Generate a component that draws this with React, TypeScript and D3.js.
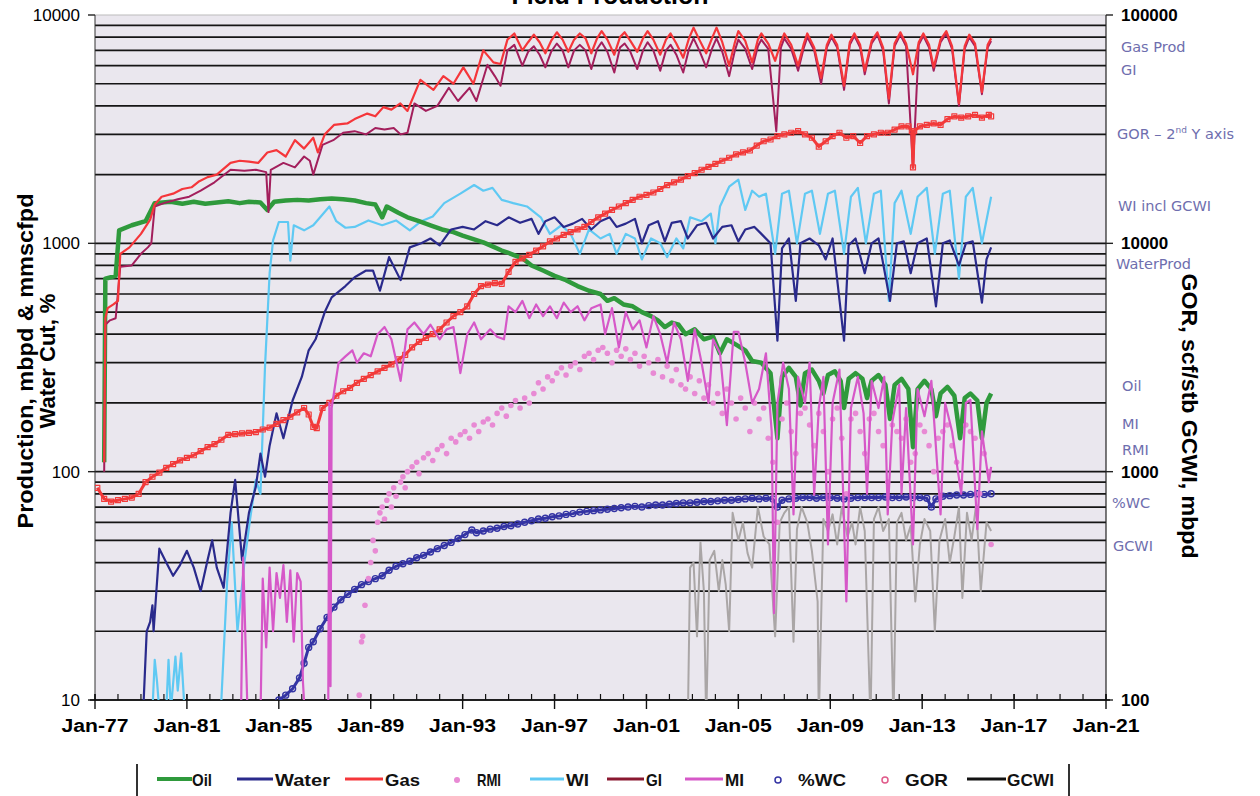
import * as d3 from "d3";

type Pt = [number, number];

// x axis: Jan of each 4th year
const yearTicks = [1977, 1981, 1985, 1989, 1993, 1997, 2001, 2005, 2009, 2013, 2017, 2021];
const yearLabels = ["Jan-77", "Jan-81", "Jan-85", "Jan-89", "Jan-93", "Jan-97", "Jan-01", "Jan-05", "Jan-09", "Jan-13", "Jan-17", "Jan-21"];
const leftTicks = [10, 100, 1000, 10000];
const rightTicks = [100, 1000, 10000, 100000];

// production, mbpd & mmscfpd (left axis)
const oil: Pt[] = [
  [1977.4, 110], [1977.45, 700], [1977.9, 720], [1978.05, 1140], [1978.6, 1200], [1979.2, 1250], [1979.6, 1500],
  [1980.3, 1520], [1980.8, 1490], [1981.3, 1520], [1981.8, 1490], [1982.3, 1510], [1982.8, 1530], [1983.3, 1500],
  [1983.7, 1520], [1984.2, 1510], [1984.5, 1400], [1984.8, 1520], [1985.3, 1540], [1985.8, 1550], [1986.3, 1540],
  [1986.8, 1560], [1987.3, 1570], [1987.8, 1560], [1988.3, 1540], [1988.8, 1500], [1989.2, 1480], [1989.5, 1300],
  [1989.7, 1450], [1990.2, 1360], [1990.6, 1300], [1991.1, 1250], [1991.6, 1200], [1992.1, 1150], [1992.6, 1120],
  [1993.0, 1080], [1993.5, 1040], [1993.9, 1010], [1994.3, 970], [1994.7, 930], [1995.1, 900], [1995.6, 860],
  [1996.0, 800], [1996.5, 760], [1997.0, 720], [1997.5, 690], [1998.0, 650], [1998.5, 620], [1999.0, 600],
  [1999.3, 560], [1999.6, 575], [2000.0, 540], [2000.4, 530], [2000.8, 500], [2001.2, 480], [2001.5, 460],
  [2001.8, 430], [2002.1, 450], [2002.4, 440], [2002.7, 400], [2003.1, 420], [2003.5, 380], [2003.9, 390],
  [2004.2, 330], [2004.5, 380], [2004.9, 360], [2005.3, 340], [2005.6, 305], [2006.0, 300], [2006.4, 270],
  [2006.7, 140], [2006.9, 260], [2007.2, 285], [2007.5, 260], [2007.7, 195], [2007.9, 270], [2008.2, 280],
  [2008.5, 250], [2008.7, 220], [2008.9, 265], [2009.2, 275], [2009.45, 250], [2009.6, 190], [2009.8, 255],
  [2010.1, 270], [2010.4, 255], [2010.6, 210], [2010.8, 250], [2011.1, 265], [2011.4, 240], [2011.6, 170],
  [2011.8, 240], [2012.1, 255], [2012.4, 230], [2012.6, 128], [2012.8, 230], [2013.1, 250], [2013.4, 230],
  [2013.6, 175], [2013.8, 220], [2014.1, 235], [2014.4, 215], [2014.65, 140], [2014.85, 210], [2015.1, 220],
  [2015.4, 205], [2015.6, 140], [2015.8, 200], [2016.0, 220],
];

const water: Pt[] = [
  [1979.1, 9], [1979.25, 20], [1979.4, 22], [1979.5, 26], [1979.55, 20], [1979.8, 46], [1980.1, 40], [1980.4, 35],
  [1980.7, 39], [1981.0, 45], [1981.3, 38], [1981.6, 30], [1981.9, 41], [1982.1, 50], [1982.3, 38], [1982.6, 31],
  [1982.9, 66], [1983.1, 92], [1983.4, 41], [1983.7, 66], [1984.0, 86], [1984.2, 120], [1984.4, 95], [1984.6, 130],
  [1984.9, 180], [1985.2, 140], [1985.6, 205], [1986.0, 260], [1986.3, 340], [1986.6, 380], [1987.0, 500],
  [1987.3, 580], [1987.9, 650], [1988.3, 710], [1988.8, 760], [1989.1, 760], [1989.4, 620], [1989.8, 870],
  [1990.3, 690], [1990.7, 960], [1991.2, 1000], [1991.6, 1050], [1992.0, 980], [1992.5, 1150], [1993.0, 1180],
  [1993.5, 1150], [1994.0, 1250], [1994.5, 1200], [1995.0, 1300], [1995.5, 1230], [1996.0, 1280], [1996.3, 1100],
  [1996.6, 1250], [1997.0, 1300], [1997.4, 1180], [1997.8, 1220], [1998.2, 1280], [1998.6, 1150], [1999.0, 1250],
  [1999.4, 1300], [1999.7, 1180], [2000.1, 1220], [2000.5, 1280], [2000.8, 1000], [2001.1, 1200], [2001.5, 1250],
  [2001.8, 1020], [2002.1, 1230], [2002.5, 1250], [2002.8, 1050], [2003.2, 1200], [2003.6, 1230], [2003.9, 1050],
  [2004.3, 1180], [2004.7, 1200], [2005.0, 1020], [2005.3, 1150], [2005.7, 1180], [2006.0, 1100], [2006.4, 1000],
  [2006.7, 375], [2006.9, 950], [2007.2, 1050], [2007.5, 560], [2007.7, 1000], [2008.1, 1050], [2008.5, 980],
  [2008.8, 850], [2009.1, 1050], [2009.6, 375], [2009.8, 980], [2010.1, 1050], [2010.5, 740], [2010.8, 1000],
  [2011.1, 1050], [2011.6, 560], [2011.9, 1000], [2012.2, 1020], [2012.5, 740], [2012.8, 1000], [2013.2, 1050],
  [2013.6, 530], [2013.9, 1000], [2014.2, 1030], [2014.6, 800], [2014.9, 1000], [2015.2, 1020], [2015.6, 550],
  [2015.8, 850], [2016.0, 960],
];

const gas: Pt[] = [
  [1977.4, 110], [1977.45, 470], [1977.55, 520], [1977.8, 540], [1978.0, 560], [1978.1, 900], [1978.5, 960],
  [1979.0, 1100], [1979.4, 1270], [1979.6, 1480], [1979.9, 1600], [1980.4, 1650], [1980.8, 1730], [1981.2, 1760],
  [1981.5, 1860], [1981.9, 1950], [1982.3, 2000], [1982.9, 2250], [1983.3, 2300], [1983.7, 2280], [1984.1, 2250],
  [1984.5, 2500], [1984.9, 2560], [1985.3, 2400], [1985.7, 2830], [1986.1, 2600], [1986.5, 2900], [1986.7, 2500],
  [1987.0, 3000], [1987.4, 3300], [1987.98, 3350], [1988.3, 3500], [1988.85, 3700], [1989.2, 3600], [1989.55, 3950],
  [1989.9, 3850], [1990.29, 4100], [1990.6, 3800], [1991.16, 5200], [1991.73, 4700], [1992.16, 5400], [1992.6, 5000],
  [1993.03, 5900], [1993.47, 5000], [1993.9, 7000], [1994.34, 6200], [1994.65, 6100], [1994.95, 7800],
  [1995.25, 8300], [1995.6, 7000], [1995.85, 7600], [1996.1, 8200], [1996.35, 7600], [1996.6, 6800], [1996.85, 7700],
  [1997.1, 8400], [1997.35, 7800], [1997.6, 6900], [1997.85, 7800], [1998.1, 8300], [1998.35, 7900], [1998.6, 6800],
  [1998.85, 7900], [1999.05, 8500], [1999.3, 7800], [1999.6, 6700], [1999.85, 8000], [2000.05, 8400], [2000.3, 7700],
  [2000.6, 6900], [2000.85, 7900], [2001.05, 8500], [2001.3, 7800], [2001.6, 6700], [2001.85, 7800], [2002.05, 8300],
  [2002.3, 7500], [2002.6, 6500], [2002.85, 7900], [2003.05, 8800], [2003.3, 7800], [2003.6, 6800], [2003.85, 7900],
  [2004.05, 8800], [2004.3, 7600], [2004.6, 6000], [2004.85, 7600], [2005.0, 8500], [2005.3, 7700], [2005.6, 6200],
  [2005.85, 7800], [2006.0, 8300], [2006.3, 7500], [2006.6, 6300], [2006.85, 7600], [2007.0, 8300], [2007.3, 7400],
  [2007.6, 6000], [2007.85, 7500], [2008.0, 8300], [2008.3, 7200], [2008.6, 5300], [2008.85, 7400], [2009.05, 8200],
  [2009.3, 7400], [2009.6, 4900], [2009.85, 7600], [2010.05, 8300], [2010.3, 7400], [2010.5, 5700], [2010.8, 7700],
  [2011.05, 8400], [2011.3, 7200], [2011.55, 4300], [2011.8, 7500], [2012.05, 8400], [2012.3, 7500], [2012.6, 5500],
  [2012.85, 7600], [2013.05, 8300], [2013.3, 7400], [2013.5, 5900], [2013.8, 7800], [2014.05, 8500], [2014.3, 7300],
  [2014.6, 4100], [2014.85, 7300], [2015.05, 8200], [2015.3, 7500], [2015.6, 4600], [2015.85, 7400], [2016.0, 7900],
];

const gi: Pt[] = [
  [1977.4, 100], [1977.45, 440], [1977.65, 460], [1977.9, 470], [1978.1, 790], [1978.6, 800], [1979.0, 900],
  [1979.3, 960], [1979.45, 1000], [1979.6, 1450], [1980.0, 1500], [1980.6, 1560], [1981.1, 1600], [1981.6, 1700],
  [1982.2, 1850], [1982.9, 2100], [1983.5, 2080], [1984.0, 2100], [1984.45, 2050], [1984.55, 1370], [1984.65, 2100],
  [1985.2, 2250], [1985.7, 2150], [1986.1, 2400], [1986.35, 2300], [1986.5, 2000], [1986.9, 2700], [1987.37, 2830],
  [1987.8, 3050], [1988.3, 3100], [1988.8, 3000], [1989.2, 3200], [1989.6, 3150], [1990.0, 3200], [1990.3, 3000],
  [1990.6, 3050], [1990.9, 4100], [1991.4, 3800], [1991.9, 4000], [1992.4, 4800], [1992.8, 4200], [1993.3, 4800],
  [1993.6, 4200], [1994.08, 6050], [1994.4, 5400], [1994.65, 4900], [1994.95, 7000],
  [1995.25, 7400], [1995.6, 6000], [1995.85, 6900], [1996.1, 7300], [1996.35, 6700], [1996.6, 5900], [1996.85, 6900],
  [1997.1, 7500], [1997.35, 7000], [1997.6, 5900], [1997.85, 7000], [1998.1, 7400], [1998.35, 7000], [1998.6, 5800],
  [1998.85, 7100], [1999.05, 7600], [1999.3, 6900], [1999.6, 5600], [1999.85, 7200], [2000.05, 7500], [2000.3, 6900],
  [2000.6, 5800], [2000.85, 7000], [2001.05, 7600], [2001.3, 7000], [2001.6, 5700], [2001.85, 7000], [2002.05, 7400],
  [2002.3, 6700], [2002.6, 5600], [2002.85, 7100], [2003.05, 7900], [2003.3, 7000], [2003.6, 5900], [2003.85, 7100],
  [2004.05, 7900], [2004.3, 6900], [2004.6, 5400], [2004.85, 7000], [2005.0, 7800], [2005.3, 7100], [2005.6, 5800],
  [2005.85, 7300], [2006.0, 7800], [2006.3, 7100], [2006.65, 3100], [2006.85, 7200], [2007.0, 7900], [2007.3, 7100],
  [2007.6, 5700], [2007.85, 7200], [2008.0, 8000], [2008.3, 7000], [2008.6, 5000], [2008.85, 7200], [2009.05, 8000],
  [2009.3, 7200], [2009.6, 4700], [2009.85, 7400], [2010.05, 8100], [2010.3, 7200], [2010.5, 5500], [2010.8, 7500],
  [2011.05, 8200], [2011.3, 7000], [2011.55, 4100], [2011.8, 7300], [2012.05, 8200], [2012.3, 7300], [2012.6, 2150],
  [2012.85, 7400], [2013.05, 8100], [2013.3, 7200], [2013.5, 5700], [2013.8, 7600], [2014.05, 8300], [2014.3, 7100],
  [2014.6, 4000], [2014.85, 7100], [2015.05, 8000], [2015.3, 7300], [2015.6, 4500], [2015.85, 7200], [2016.0, 7700],
];

const wi: Pt[] = [
  [1979.5, 9], [1979.6, 15], [1979.7, 12], [1979.8, 9], [1980.1, 9], [1980.2, 15], [1980.3, 9], [1980.5, 15.5],
  [1980.6, 11], [1980.75, 16], [1980.9, 9], [1981.0, 8], [1982.4, 8], [1982.5, 10], [1982.75, 33], [1982.95, 60],
  [1983.2, 20], [1983.5, 40], [1983.75, 62], [1984.0, 92], [1984.2, 80], [1984.4, 290], [1984.6, 740],
  [1984.75, 1030], [1985.0, 1240], [1985.4, 1240], [1985.5, 840], [1985.65, 1200], [1986.1, 1140], [1986.5, 1200],
  [1986.8, 1300], [1987.2, 1450], [1987.5, 1250], [1987.9, 1170], [1988.3, 1180], [1988.9, 1260], [1989.5, 1200],
  [1990.1, 1260], [1990.7, 1140], [1991.2, 1250], [1991.7, 1310], [1992.2, 1500], [1992.9, 1650], [1993.5, 1800],
  [1993.9, 1700], [1994.3, 1750], [1994.7, 1550], [1995.2, 1500], [1995.8, 1450], [1996.4, 1300], [1996.8, 1100],
  [1997.3, 1200], [1997.7, 1100], [1998.1, 900], [1998.5, 1150], [1999.0, 1050], [1999.4, 1100], [1999.7, 900],
  [2000.1, 1100], [2000.5, 1050], [2000.8, 850], [2001.2, 1050], [2001.6, 1000], [2001.9, 870], [2002.3, 1050],
  [2002.6, 950], [2002.9, 1300], [2003.4, 1250], [2003.8, 1350], [2004.0, 1000], [2004.2, 1450], [2004.6, 1770],
  [2005.0, 1900], [2005.3, 1400], [2005.6, 1700], [2005.9, 1600], [2006.2, 1650], [2006.6, 900], [2006.9, 1650],
  [2007.2, 1700], [2007.55, 1000], [2007.9, 1650], [2008.2, 1700], [2008.55, 1100], [2008.9, 1650], [2009.2, 1700],
  [2009.6, 900], [2009.9, 1600], [2010.2, 1750], [2010.55, 1000], [2010.9, 1650], [2011.2, 1700], [2011.55, 560],
  [2011.8, 1500], [2012.1, 1700], [2012.5, 1100], [2012.8, 1600], [2013.2, 1750], [2013.55, 900], [2013.9, 1650],
  [2014.2, 1700], [2014.6, 700], [2014.9, 1600], [2015.2, 1750], [2015.6, 1000], [2016.0, 1600],
];

const mi: Pt[] = [
  [1983.35, 8], [1983.45, 42], [1983.55, 18], [1983.65, 8], [1984.2, 8], [1984.3, 34], [1984.45, 17], [1984.6, 38],
  [1984.75, 20], [1984.9, 36], [1985.05, 28], [1985.2, 39], [1985.35, 22], [1985.5, 37], [1985.65, 18], [1985.8, 36],
  [1985.95, 33], [1986.05, 12], [1986.15, 8], [1987.15, 8], [1987.2, 200], [1987.25, 11.5], [1987.3, 190],
  [1987.6, 300], [1987.9, 320], [1988.2, 340], [1988.4, 300], [1988.7, 330], [1989.0, 320], [1989.3, 400],
  [1989.6, 430], [1989.9, 380], [1990.3, 250], [1990.6, 420], [1990.9, 450], [1991.3, 400], [1991.6, 440],
  [1992.0, 380], [1992.3, 420], [1992.6, 430], [1992.9, 270], [1993.2, 400], [1993.5, 450], [1993.8, 380],
  [1994.2, 420], [1994.5, 390], [1994.8, 380], [1995.0, 530], [1995.3, 500], [1995.6, 560], [1995.9, 470],
  [1996.2, 540], [1996.5, 480], [1996.8, 530], [1997.1, 470], [1997.4, 550], [1997.7, 500], [1998.0, 530],
  [1998.3, 460], [1998.6, 520], [1999.0, 540], [1999.2, 400], [1999.5, 520], [1999.8, 350], [2000.1, 500],
  [2000.4, 420], [2000.7, 460], [2001.0, 350], [2001.3, 480], [2001.6, 400], [2001.9, 300], [2002.2, 450],
  [2002.5, 380], [2002.8, 250], [2003.1, 420], [2003.4, 300], [2003.7, 200], [2003.9, 380], [2004.2, 330],
  [2004.5, 160], [2004.8, 410], [2005.0, 410], [2005.3, 300], [2005.6, 200], [2005.9, 230], [2006.2, 330],
  [2006.45, 150], [2006.55, 24], [2006.7, 200], [2006.95, 300], [2007.2, 230], [2007.4, 65], [2007.6, 260],
  [2007.9, 200], [2008.1, 300], [2008.3, 79], [2008.5, 190], [2008.7, 260], [2008.9, 48], [2009.1, 200],
  [2009.4, 280], [2009.7, 27], [2009.9, 190], [2010.2, 260], [2010.45, 180], [2010.6, 80], [2010.8, 250],
  [2011.1, 190], [2011.35, 260], [2011.5, 65], [2011.7, 165], [2012.0, 240], [2012.1, 80], [2012.3, 190],
  [2012.6, 48], [2012.8, 230], [2013.1, 175], [2013.4, 250], [2013.8, 65], [2014.0, 200], [2014.3, 150],
  [2014.7, 80], [2014.9, 200], [2015.1, 206], [2015.4, 56], [2015.6, 150], [2015.9, 90], [2016.0, 105],
];

const rmi: Pt[] = [
  [1988.5, 10.5], [1988.6, 18], [1988.65, 19], [1988.75, 26], [1988.9, 34], [1989.0, 40], [1989.1, 50], [1989.2, 45],
  [1989.3, 60], [1989.4, 66], [1989.5, 70], [1989.6, 62], [1989.7, 75], [1989.8, 80], [1989.9, 70], [1990.0, 85],
  [1990.1, 78], [1990.3, 90], [1990.4, 95], [1990.5, 85], [1990.6, 100], [1990.8, 105], [1991.0, 110], [1991.1, 98],
  [1991.3, 115], [1991.5, 120], [1991.7, 112], [1991.9, 125], [1992.1, 130], [1992.3, 120], [1992.5, 140],
  [1992.7, 135], [1992.9, 145], [1993.1, 150], [1993.3, 140], [1993.5, 160], [1993.7, 150], [1993.9, 165],
  [1994.1, 170], [1994.3, 160], [1994.5, 180], [1994.7, 190], [1994.9, 175], [1995.1, 195], [1995.3, 205],
  [1995.5, 190], [1995.7, 210], [1995.9, 200], [1996.1, 220], [1996.3, 245], [1996.5, 230], [1996.7, 260],
  [1996.9, 250], [1997.1, 270], [1997.3, 285], [1997.5, 265], [1997.7, 290], [1997.9, 300], [1998.1, 280],
  [1998.3, 320], [1998.5, 330], [1998.7, 310], [1998.9, 340], [1999.1, 350], [1999.3, 330], [1999.5, 300],
  [1999.7, 340], [1999.9, 320], [2000.1, 345], [2000.3, 310], [2000.5, 330], [2000.7, 290], [2000.9, 320],
  [2001.1, 300], [2001.3, 270], [2001.5, 310], [2001.7, 260], [2001.9, 290], [2002.1, 250], [2002.3, 280],
  [2002.5, 240], [2002.7, 230], [2002.9, 260], [2003.1, 220], [2003.3, 250], [2003.5, 210], [2003.7, 240],
  [2003.9, 200], [2004.1, 220], [2004.3, 180], [2004.5, 230], [2004.7, 200], [2004.9, 170], [2005.1, 210],
  [2005.3, 190], [2005.5, 150], [2005.7, 200], [2005.9, 170], [2006.1, 190], [2006.3, 140], [2006.5, 110],
  [2006.7, 60], [2006.9, 170], [2007.1, 200], [2007.3, 150], [2007.5, 120], [2007.7, 180], [2007.9, 190],
  [2008.1, 160], [2008.3, 130], [2008.5, 180], [2008.7, 150], [2008.9, 100], [2009.1, 170], [2009.3, 190],
  [2009.5, 140], [2009.7, 80], [2009.9, 170], [2010.1, 180], [2010.3, 150], [2010.5, 120], [2010.7, 170],
  [2010.9, 180], [2011.1, 150], [2011.3, 130], [2011.5, 90], [2011.7, 160], [2011.9, 150], [2012.1, 140],
  [2012.3, 170], [2012.5, 110], [2012.7, 120], [2012.9, 160], [2013.1, 150], [2013.3, 130], [2013.5, 100],
  [2013.7, 140], [2013.9, 150], [2014.1, 160], [2014.3, 130], [2014.5, 110], [2014.7, 90], [2014.9, 160],
  [2015.1, 150], [2015.3, 140], [2015.5, 80], [2015.7, 120], [2015.9, 100], [2016.0, 48],
];

const waterCut: Pt[] = [
  [1985.0, 10], [1985.3, 10.5], [1985.6, 11.2], [1985.9, 12.5], [1986.1, 14.5], [1986.3, 17], [1986.5, 18],
  [1986.8, 20.5], [1987.1, 23], [1987.4, 25.5], [1987.7, 27.5], [1988.0, 29], [1988.3, 30.5], [1988.6, 32],
  [1988.9, 33], [1989.2, 34], [1989.5, 35], [1989.8, 37], [1990.1, 38.5], [1990.4, 39.5], [1990.7, 40.5],
  [1991.0, 42], [1991.3, 43], [1991.6, 44.5], [1991.9, 46], [1992.2, 47.5], [1992.5, 49], [1992.8, 51],
  [1993.1, 53], [1993.4, 55.5], [1993.6, 54], [1993.9, 55], [1994.2, 56], [1994.5, 56.5], [1994.8, 57.5],
  [1995.1, 58], [1995.4, 59], [1995.7, 60], [1996.0, 61], [1996.3, 62], [1996.6, 62.5], [1996.9, 63.5],
  [1997.2, 64], [1997.5, 65], [1997.8, 65.5], [1998.1, 66.5], [1998.4, 67], [1998.7, 67.5], [1999.0, 68],
  [1999.3, 68.5], [1999.6, 69], [1999.9, 69.5], [2000.2, 70], [2000.5, 70.5], [2000.8, 70], [2001.1, 71],
  [2001.4, 71.5], [2001.7, 71.5], [2002.0, 72], [2002.3, 72.5], [2002.6, 73], [2002.9, 73], [2003.2, 73.5],
  [2003.5, 74], [2003.8, 74], [2004.1, 74.5], [2004.4, 75], [2004.7, 75], [2005.0, 75.5], [2005.3, 76],
  [2005.6, 76.5], [2005.9, 76], [2006.2, 76.5], [2006.5, 76], [2006.7, 70], [2006.9, 75], [2007.2, 76],
  [2007.5, 76.5], [2007.8, 77], [2008.1, 77], [2008.4, 76.5], [2008.7, 77], [2009.0, 77], [2009.3, 76.5],
  [2009.6, 76], [2009.9, 76.5], [2010.2, 77], [2010.5, 77], [2010.8, 77], [2011.1, 77], [2011.4, 77.5],
  [2011.7, 77], [2012.0, 77], [2012.3, 77.5], [2012.6, 77], [2012.9, 77], [2013.2, 76.5], [2013.4, 70],
  [2013.6, 76], [2013.9, 78], [2014.2, 78.5], [2014.5, 79], [2014.8, 79], [2015.1, 79.5], [2015.4, 80],
  [2015.7, 79.5], [2016.0, 80],
];

// GOR scf/stb and GCWI mbpd (right axis)
const gor: Pt[] = [
  [1977.1, 850], [1977.4, 760], [1977.7, 740], [1978.0, 750], [1978.3, 760], [1978.6, 770], [1978.9, 800],
  [1979.2, 900], [1979.5, 950], [1979.8, 990], [1980.1, 1040], [1980.4, 1080], [1980.7, 1120], [1981.0, 1150],
  [1981.3, 1180], [1981.6, 1230], [1981.9, 1280], [1982.2, 1320], [1982.5, 1380], [1982.8, 1450], [1983.1, 1460],
  [1983.4, 1470], [1983.7, 1480], [1984.0, 1490], [1984.3, 1530], [1984.6, 1560], [1984.9, 1620], [1985.2, 1680],
  [1985.5, 1740], [1985.8, 1820], [1986.1, 1900], [1986.3, 1780], [1986.5, 1570], [1986.65, 1550], [1986.9, 1900],
  [1987.2, 2000], [1987.5, 2150], [1987.8, 2250], [1988.1, 2330], [1988.4, 2450], [1988.7, 2550], [1989.0, 2650],
  [1989.3, 2750], [1989.6, 2850], [1989.9, 2950], [1990.2, 3100], [1990.5, 3250], [1990.8, 3500], [1991.1, 3700],
  [1991.4, 3850], [1991.7, 4000], [1992.0, 4200], [1992.3, 4500], [1992.6, 4800], [1992.9, 5000], [1993.2, 5300],
  [1993.5, 6000], [1993.8, 6500], [1994.1, 6600], [1994.4, 6700], [1994.7, 6650], [1995.0, 7500], [1995.3, 8300],
  [1995.6, 8600], [1995.9, 8900], [1996.2, 9300], [1996.5, 9700], [1996.8, 10200], [1997.1, 10500], [1997.4, 10900],
  [1997.7, 11200], [1998.0, 11500], [1998.3, 11800], [1998.6, 12400], [1998.9, 13000], [1999.2, 13500],
  [1999.5, 14000], [1999.8, 14500], [2000.1, 15000], [2000.4, 15500], [2000.7, 16000], [2001.0, 16300],
  [2001.3, 16700], [2001.6, 17300], [2001.9, 18000], [2002.2, 18500], [2002.5, 19000], [2002.8, 19700],
  [2003.1, 20300], [2003.4, 21000], [2003.7, 21600], [2004.0, 22300], [2004.3, 23000], [2004.6, 23700],
  [2004.9, 24500], [2005.2, 25000], [2005.5, 25500], [2005.8, 26800], [2006.1, 28000], [2006.4, 28500],
  [2006.7, 29500], [2007.0, 30000], [2007.3, 30500], [2007.6, 31000], [2007.9, 30000], [2008.2, 29000],
  [2008.5, 26500], [2008.8, 28000], [2009.1, 29500], [2009.4, 30500], [2009.7, 29000], [2010.0, 29500],
  [2010.3, 27500], [2010.6, 29500], [2010.9, 30000], [2011.2, 30500], [2011.5, 30500], [2011.8, 31500],
  [2012.1, 32500], [2012.4, 32500], [2012.55, 31000], [2012.6, 21500], [2012.65, 31000], [2012.9, 32500],
  [2013.2, 33000], [2013.5, 33500], [2013.8, 33000], [2014.1, 35000], [2014.4, 36000], [2014.7, 35500],
  [2015.0, 36000], [2015.3, 36500], [2015.6, 35500], [2015.9, 36500], [2016.0, 36000],
];

const gcwi: Pt[] = [
  [2002.8, 80], [2002.9, 380], [2003.05, 400], [2003.2, 190], [2003.35, 490], [2003.5, 300], [2003.6, 80],
  [2003.75, 410], [2003.95, 450], [2004.15, 300], [2004.3, 410], [2004.45, 320], [2004.6, 200], [2004.75, 660],
  [2005.0, 500], [2005.2, 600], [2005.4, 440], [2005.6, 380], [2005.85, 700], [2006.1, 520], [2006.35, 480],
  [2006.6, 190], [2006.8, 600], [2007.0, 660], [2007.2, 700], [2007.4, 180], [2007.55, 560], [2007.75, 700],
  [2008.0, 600], [2008.2, 450], [2008.45, 270], [2008.5, 80], [2008.7, 620], [2008.9, 550], [2009.1, 650],
  [2009.3, 480], [2009.5, 700], [2009.75, 520], [2009.95, 600], [2010.1, 480], [2010.3, 700], [2010.5, 550],
  [2010.75, 80], [2010.9, 620], [2011.1, 700], [2011.3, 550], [2011.55, 620], [2011.75, 80], [2011.9, 600],
  [2012.1, 660], [2012.3, 500], [2012.5, 580], [2012.7, 270], [2012.9, 480], [2013.1, 620], [2013.35, 550],
  [2013.55, 200], [2013.75, 500], [2014.0, 620], [2014.2, 400], [2014.4, 520], [2014.6, 700], [2014.75, 280],
  [2014.95, 660], [2015.15, 500], [2015.35, 720], [2015.55, 300], [2015.8, 600], [2016.0, 550],
];

const notes = [
  { text: "Gas Prod", y: 47 },
  { text: "GI", y: 70 },
  { text: "GOR", y: 134 },
  { text: "WI incl GCWI", y: 206 },
  { text: "WaterProd", y: 264 },
  { text: "Oil", y: 386 },
  { text: "MI", y: 424 },
  { text: "RMI", y: 450 },
  { text: "%WC", y: 503 },
  { text: "GCWI", y: 546 },
];
const noteX = [1121, 1121, 1117, 1118, 1116, 1122, 1122, 1122, 1112, 1113];

const C = {
  oil: "#2f9a3c",
  water: "#2a2a8c",
  gas: "#f5363a",
  rmi: "#e88ad4",
  wi: "#5fc9f3",
  gi: "#a31f5c",
  mi: "#d658c8",
  wc: "#3434a4",
  gor: "#f23a3a",
  gcwi: "#aaa6a6",
};

const legend = [
  { key: "Oil", kind: "line", color: C.oil, x0: 157, x1: 192, tx: 192, tl: 20, w: 4 },
  { key: "Water", kind: "line", color: C.water, x0: 237, x1: 273, tx: 275, tl: 55, w: 3 },
  { key: "Gas", kind: "line", color: C.gas, x0: 345, x1: 383, tx: 385, tl: 35, w: 3 },
  { key: "RMI", kind: "dot", color: C.rmi, x0: 457, x1: 457, tx: 477, tl: 24, w: 0 },
  { key: "WI", kind: "line", color: C.wi, x0: 530, x1: 564, tx: 566, tl: 23, w: 3 },
  { key: "GI", kind: "line", color: "#8a1830", x0: 607, x1: 644, tx: 646, tl: 16, w: 3 },
  { key: "MI", kind: "line", color: C.mi, x0: 685, x1: 723, tx: 725, tl: 19, w: 3 },
  { key: "%WC", kind: "circle", color: C.wc, x0: 778, x1: 778, tx: 798, tl: 48, w: 0 },
  { key: "GOR", kind: "circle", color: "#e05a8a", x0: 885, x1: 885, tx: 905, tl: 43, w: 0 },
  { key: "GCWI", kind: "line", color: "#111", x0: 967, x1: 1006, tx: 1007, tl: 47, w: 3 },
];

const FONT = "'Liberation Sans', Arial, sans-serif";

export default function App() {
  const x = d3.scaleLinear().domain([1977, 2021]).range([95, 1106]);
  const yL = d3.scaleLog().domain([10, 10000]).range([700, 15]);
  const yR = d3.scaleLog().domain([100, 100000]).range([700, 15]);

  const lineL = d3.line<Pt>().x((d) => x(d[0])).y((d) => yL(d[1]));
  const lineR = d3.line<Pt>().x((d) => x(d[0])).y((d) => yR(d[1]));

  const gridVals: number[] = [];
  [10, 100, 1000].forEach((dec) => {
    for (let k = 1; k <= 9; k++) gridVals.push(dec * k);
  });

  const years = d3.range(1977, 2022);

  return (
    <div style={{ position: "absolute", left: 0, top: 0 }}>
      <svg width={1260} height={796} style={{ display: "block", background: "#fff" }}>
        <defs>
          <clipPath id="plot">
            <rect x={95} y={15} width={1011} height={685} />
          </clipPath>
        </defs>

        {/* title is cut off at the top edge in the source image */}
        <text x={610} y={4} textAnchor="middle" fontFamily={FONT} fontWeight="bold" fontSize={25}>
          Field Production
        </text>

        <rect x={95} y={15} width={1011} height={685} fill="#eae7ee" />
        <line x1={95} x2={1106} y1={15} y2={15} stroke="#bbb" strokeWidth={1} />

        {gridVals.map((v) => (
          <line key={v} x1={95} x2={1106} y1={yL(v)} y2={yL(v)} stroke="#151515" strokeWidth={1.7} />
        ))}

        <line x1={95} x2={95} y1={15} y2={700} stroke="#333" strokeWidth={1} />
        <line x1={1106} x2={1106} y1={15} y2={700} stroke="#222" strokeWidth={1.2} />

        {leftTicks.map((v) => (
          <g key={"l" + v}>
            <line x1={88} x2={95} y1={yL(v)} y2={yL(v)} stroke="#222" strokeWidth={1.4} />
            <text x={80} y={yL(v) + 6} textAnchor="end" fontFamily={FONT} fontSize={17}>
              {v}
            </text>
          </g>
        ))}
        {rightTicks.map((v) => (
          <g key={"r" + v}>
            <line x1={1106} x2={1113} y1={yR(v)} y2={yR(v)} stroke="#222" strokeWidth={1.4} />
            <text x={1121} y={yR(v) + 6} fontFamily={FONT} fontSize={17} fontWeight={600}>
              {v}
            </text>
          </g>
        ))}

        <line x1={90} x2={1110} y1={700} y2={700} stroke="#111" strokeWidth={1.6} />
        {years.map((yr) => (
          <line key={yr} x1={x(yr)} x2={x(yr)} y1={694} y2={700} stroke="#111" strokeWidth={1.2} />
        ))}
        {yearTicks.map((yr, i) => (
          <g key={"t" + yr}>
            <line x1={x(yr)} x2={x(yr)} y1={694} y2={709} stroke="#111" strokeWidth={1.4} />
            <text
              x={x(yr)}
              y={732}
              textAnchor="middle"
              fontFamily={FONT}
              fontWeight="bold"
              fontSize={18}
              textLength={67}
              lengthAdjust="spacingAndGlyphs"
            >
              {yearLabels[i]}
            </text>
          </g>
        ))}

        <g clipPath="url(#plot)" fill="none" strokeLinejoin="round">
          <path d={lineR(gcwi) ?? ""} stroke={C.gcwi} strokeWidth={2} />
          <path d={lineL(wi) ?? ""} stroke={C.wi} strokeWidth={2.2} />
          <path d={lineL(oil) ?? ""} stroke={C.oil} strokeWidth={4.5} />
          <path d={lineL(water) ?? ""} stroke={C.water} strokeWidth={2.2} />
          <path d={lineL(gi) ?? ""} stroke={C.gi} strokeWidth={2} />
          <path d={lineL(gas) ?? ""} stroke={C.gas} strokeWidth={2.2} />
          <path d={lineR(gor) ?? ""} stroke={C.gor} strokeWidth={3} />
          {gor.map((d, i) => (
            <rect
              key={"g" + i}
              x={x(d[0]) - 2.5}
              y={yR(d[1]) - 2.5}
              width={5}
              height={5}
              stroke={C.gor}
              strokeWidth={1.2}
              fill="none"
            />
          ))}
          <path d={lineL(waterCut) ?? ""} stroke={C.wc} strokeWidth={3} />
          {waterCut.map((d, i) => (
            <circle key={"w" + i} cx={x(d[0])} cy={yL(d[1])} r={3} stroke={C.wc} strokeWidth={1.4} fill="none" />
          ))}
          {rmi.map((d, i) => (
            <circle key={"r" + i} cx={x(d[0])} cy={yL(d[1])} r={2.8} fill={C.rmi} stroke="none" />
          ))}
          <path d={lineL(mi) ?? ""} stroke={C.mi} strokeWidth={2.2} />
        </g>

        {notes.map((n, i) => (
          <text key={n.text} x={noteX[i]} y={n.y + 5} fontFamily="'DejaVu Sans', Verdana, sans-serif" fontSize={14.5} fill="#6e6eae">
            {n.text === "GOR" ? (
              <>
                GOR – 2<tspan fontSize={9} dy={-6}>nd</tspan>
                <tspan dy={6}> Y axis</tspan>
              </>
            ) : (
              n.text
            )}
          </text>
        ))}

        <text
          transform="translate(33,361) rotate(-90)"
          textAnchor="middle"
          fontFamily={FONT}
          fontWeight="bold"
          fontSize={22}
          textLength={335}
          lengthAdjust="spacingAndGlyphs"
        >
          Production, mbpd &amp; mmscfpd
        </text>
        <text transform="translate(55,361) rotate(-90)" textAnchor="middle" fontFamily={FONT} fontWeight="bold" fontSize={22}>
          Water Cut, %
        </text>
        <text
          transform="translate(1182,416) rotate(90)"
          textAnchor="middle"
          fontFamily={FONT}
          fontWeight="bold"
          fontSize={22}
          textLength={285}
          lengthAdjust="spacingAndGlyphs"
        >
          GOR, scf/stb GCWI, mbpd
        </text>

        <line x1={137} x2={137} y1={764} y2={796} stroke="#333" strokeWidth={2} />
        <line x1={1069} x2={1069} y1={764} y2={796} stroke="#333" strokeWidth={2} />
        {legend.map((l) => (
          <g key={l.key}>
            {l.kind === "line" && <line x1={l.x0} x2={l.x1} y1={779} y2={779} stroke={l.color} strokeWidth={l.w} />}
            {l.kind === "dot" && <circle cx={l.x0} cy={780} r={3} fill={l.color} />}
            {l.kind === "circle" && <circle cx={l.x0} cy={780} r={3} fill="none" stroke={l.color} strokeWidth={1.5} />}
            <text
              x={l.tx}
              y={786}
              fontFamily={FONT}
              fontWeight="bold"
              fontSize={17}
              textLength={l.tl}
              lengthAdjust="spacingAndGlyphs"
              fill="#111"
            >
              {l.key}
            </text>
          </g>
        ))}
      </svg>
    </div>
  );
}
